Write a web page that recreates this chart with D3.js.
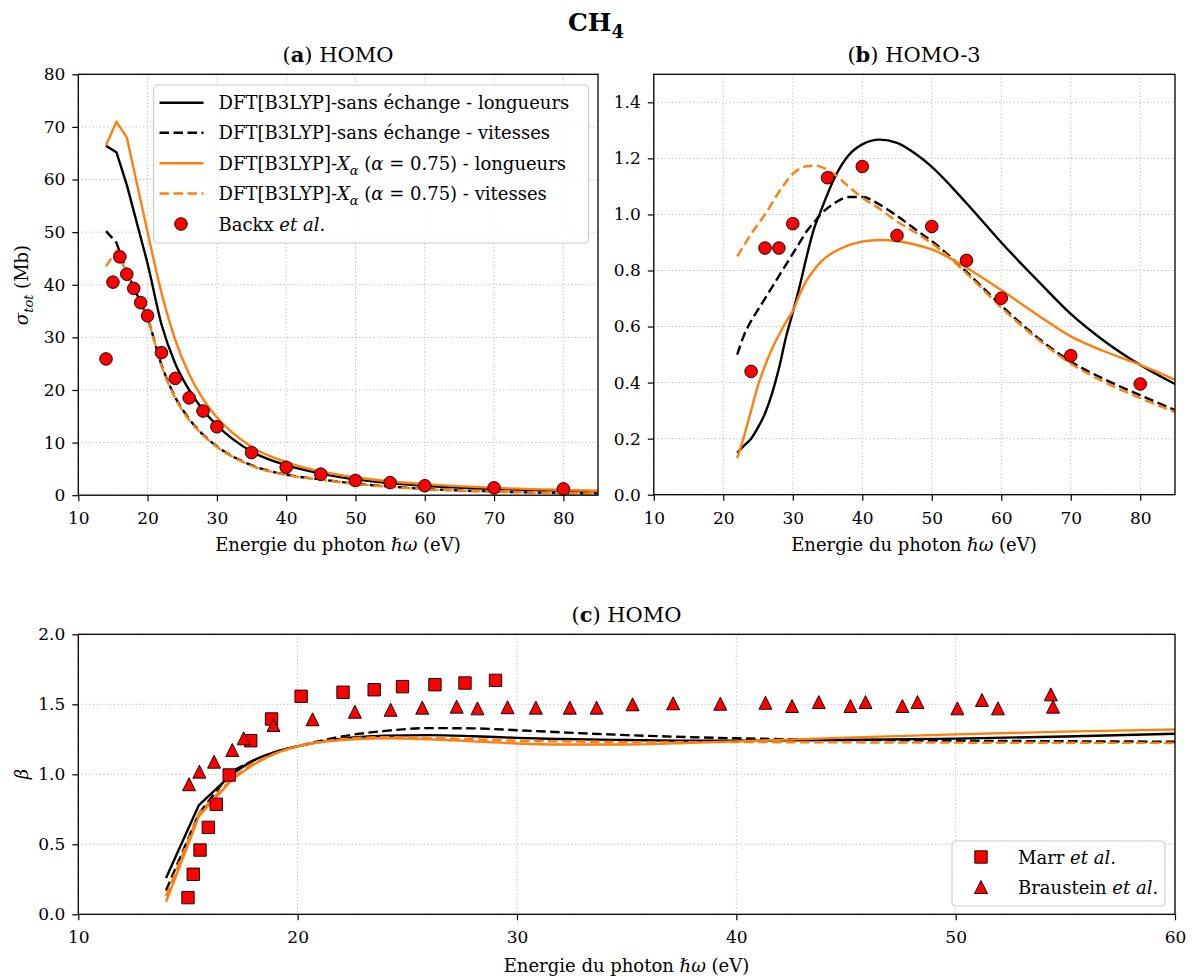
<!DOCTYPE html>
<html><head><meta charset="utf-8">
<script src="https://cdn.jsdelivr.net/npm/d3@7"></script>
<style>body{margin:0;background:#fff}svg text{font-family:"DejaVu Serif",serif;fill:#000}</style>
</head><body><svg id="c" width="1192" height="979"></svg>
<script>
// ---------------- DATA ----------------
// Panel (a) HOMO : sigma_tot (Mb)
const aLineX    = [14,15.5,17,18,19,20,22,24,26,28,30,35,40,45,50,55,60,70,80,85];
const aSansLong = [66.4,65.2,59,54,49,44,32.5,25,20,16.2,13.3,8.3,5.7,4.1,3.0,2.3,1.8,1.2,0.86,0.72];
const aSansVit  = [50.2,48,42.5,39.5,36.6,33.6,24.8,18.6,14.5,11.5,9.3,5.7,3.9,3.0,2.2,1.65,1.2,0.7,0.42,0.34];
const aXaLong   = [66.5,71,68,62,56,50,38.5,29.5,23,18.3,14.8,9.2,6.3,4.5,3.4,2.6,2.1,1.4,1.0,0.85];
const aXaVit    = [43.5,46.5,42.3,39.3,36.5,33.5,24.6,18.4,14.3,11.4,9.2,5.6,3.85,2.95,2.15,1.6,1.15,0.68,0.4,0.32];
const aBackxX   = [14,15,16,17,18,19,20,22,24,26,28,30,35,40,45,50,55,60,70,80];
const aBackxY   = [25.9,40.5,45.3,42.0,39.3,36.6,34.1,27.1,22.2,18.5,16.0,13.0,8.1,5.3,4.0,2.8,2.4,1.8,1.4,1.2];

// Panel (b) HOMO-3
const bLineX    = [22,23,24,25,26,27,28,29,30,31,32,33,34,36,38,40,42.5,45,48,50,55,60,65,70,75,80,85];
const bSansLong = [0.15,0.175,0.2,0.24,0.29,0.36,0.45,0.56,0.65,0.745,0.85,0.945,1.01,1.13,1.21,1.25,1.267,1.255,1.21,1.17,1.04,0.9,0.77,0.645,0.545,0.463,0.395];
const bSansVit  = [0.5,0.57,0.62,0.66,0.7,0.74,0.78,0.82,0.86,0.9,0.94,0.97,1.0,1.04,1.062,1.062,1.035,0.995,0.94,0.905,0.795,0.675,0.565,0.475,0.41,0.355,0.302];
const bXaLong   = [0.13,0.21,0.3,0.39,0.46,0.52,0.57,0.615,0.655,0.715,0.765,0.8,0.83,0.867,0.89,0.903,0.909,0.905,0.89,0.875,0.81,0.73,0.645,0.565,0.51,0.463,0.41];
const bXaVit    = [0.85,0.89,0.93,0.965,1.0,1.04,1.08,1.115,1.145,1.163,1.172,1.174,1.17,1.143,1.1,1.06,1.02,0.975,0.93,0.897,0.79,0.668,0.56,0.468,0.4,0.345,0.295];
const bBackxX   = [24,26,28,30,35,40,45,50,55,60,70,80];
const bBackxY   = [0.44,0.88,0.88,0.967,1.131,1.171,0.925,0.957,0.836,0.701,0.496,0.395];

// Panel (c) HOMO : beta
const cLineX    = [14,15.5,17,18,19,20,22,24,26,28,30,32,35,38,40,45,50,55,60];
const cSansLong = [0.26,0.78,1.0,1.1,1.16,1.2,1.255,1.275,1.28,1.272,1.26,1.252,1.245,1.24,1.24,1.245,1.255,1.27,1.29];
const cSansVit  = [0.17,0.72,1.02,1.1,1.16,1.2,1.27,1.31,1.33,1.328,1.315,1.3,1.28,1.265,1.257,1.247,1.24,1.236,1.233];
const cXaLong   = [0.09,0.7,0.96,1.07,1.15,1.2,1.245,1.258,1.25,1.235,1.22,1.213,1.213,1.225,1.235,1.262,1.285,1.305,1.32];
const cXaVit    = [0.13,0.72,0.97,1.08,1.15,1.2,1.25,1.265,1.26,1.25,1.24,1.235,1.23,1.23,1.23,1.228,1.226,1.225,1.224];
const marrX = [15.0,15.24,15.55,15.93,16.29,16.88,17.86,18.81,20.16,22.07,23.49,24.78,26.26,27.63,29.02];
const marrY = [0.119,0.286,0.459,0.621,0.786,0.995,1.24,1.395,1.557,1.586,1.604,1.626,1.64,1.652,1.671];
const braunX = [15.05,15.52,16.19,17.02,17.54,18.9,20.68,22.61,24.24,25.68,27.25,28.2,29.57,30.86,32.41,33.63,35.27,37.12,39.27,41.33,42.54,43.76,45.2,45.89,47.57,48.26,50.08,51.2,51.93,54.34,54.44];
const braunY = [0.929,1.019,1.09,1.174,1.257,1.352,1.393,1.447,1.461,1.476,1.483,1.471,1.479,1.476,1.476,1.476,1.5,1.507,1.504,1.511,1.488,1.516,1.488,1.516,1.488,1.516,1.471,1.531,1.471,1.571,1.483];

// ticks
const abXTicks = [10,20,30,40,50,60,70,80];
const aYTicks  = [0,10,20,30,40,50,60,70,80];
const bYTicks  = [0,0.2,0.4,0.6,0.8,1.0,1.2,1.4];
const cXTicks  = [10,20,30,40,50,60];
const cYTicks  = [0,0.5,1.0,1.5,2.0];

const legendA = ["DFT[B3LYP]-sans échange - longueurs","DFT[B3LYP]-sans échange - vitesses"];

// ---------------- DRAWING ----------------
const svg = d3.select("#c");
const ORANGE = "#ff7f0e", RED = "#ff0000";
const FS = 18;
const LW = 2.4;

function rich(g, x, y, segs, opts = {}) {
  const size = opts.size || FS;
  const t = g.append("text").attr("x", x).attr("y", y)
    .attr("font-size", size).attr("text-anchor", opts.anchor || "start");
  if (opts.transform) t.attr("transform", opts.transform);
  let shift = 0;
  segs.forEach(s => {
    if (typeof s === "string") s = {t: s};
    const sp = t.append("tspan").text(s.t);
    if (s.i) sp.attr("font-style", "italic");
    if (s.b) sp.attr("font-weight", "bold");
    const target = s.sub ? size * 0.28 : 0;
    if (target !== shift) { sp.attr("dy", target - shift); shift = target; }
    if (s.sub) sp.attr("font-size", size * 0.72);
  });
  return t;
}

let clipId = 0;
function panel(o) {
  const x = d3.scaleLinear().domain(o.xd).range([o.x0, o.x1]);
  const y = d3.scaleLinear().domain(o.yd).range([o.y1, o.y0]);
  const g = svg.append("g");
  const grid = g.append("g").attr("stroke", "#b0b0b0").attr("stroke-width", 1).attr("stroke-dasharray", "1,2.6");
  o.xt.forEach(v => grid.append("line").attr("x1", x(v)).attr("x2", x(v)).attr("y1", o.y0).attr("y2", o.y1));
  o.yt.forEach(v => grid.append("line").attr("y1", y(v)).attr("y2", y(v)).attr("x1", o.x0).attr("x2", o.x1));
  const id = "clip" + (clipId++);
  svg.append("clipPath").attr("id", id).append("rect")
    .attr("x", o.x0).attr("y", o.y0).attr("width", o.x1 - o.x0).attr("height", o.y1 - o.y0);
  const data = g.append("g").attr("clip-path", `url(#${id})`);
  return {x, y, g, data, o, finish() {
    const ax = svg.append("g");
    ax.append("rect").attr("x", o.x0).attr("y", o.y0).attr("width", o.x1 - o.x0).attr("height", o.y1 - o.y0)
      .attr("fill", "none").attr("stroke", "#000").attr("stroke-width", 1.3);
    const xa = d3.axisBottom(x).tickValues(o.xt).tickSize(6).tickPadding(7).tickFormat(d3.format("d"));
    const ya = d3.axisLeft(y).tickValues(o.yt).tickSize(6).tickPadding(7).tickFormat(o.yfmt);
    const gx = ax.append("g").attr("transform", `translate(0,${o.y1})`).call(xa);
    const gy = ax.append("g").attr("transform", `translate(${o.x0},0)`).call(ya);
    [gx, gy].forEach(a => {
      a.select(".domain").remove();
      a.selectAll(".tick line").attr("stroke", "#000").attr("stroke-width", 1.2);
      a.selectAll(".tick text").attr("font-size", 17).attr("font-family", '"DejaVu Serif", serif').attr("fill", "#000");
    });
    gx.selectAll(".tick text").attr("dy", "0.95em");
  }};
}

// linear segments up to xLin (the coarse start of the computed curves), smooth afterwards
function drawLine(p, xs, ys, color, dashed, xLin) {
  const pts = d3.zip(xs, ys);
  const head = pts.filter(d => d[0] <= xLin);
  const tail = pts.filter(d => d[0] >= xLin);
  const lin = d3.line().x(d => p.x(d[0])).y(d => p.y(d[1])).curve(d3.curveLinear);
  const smooth = d3.line().x(d => p.x(d[0])).y(d => p.y(d[1])).curve(d3.curveMonotoneX);
  let d = "";
  if (head.length > 1) d += lin(head);
  if (tail.length > 1) d += (head.length > 1 ? smooth(tail).replace(/^M/, "L") : smooth(tail));
  p.data.append("path").attr("d", d)
    .attr("fill", "none").attr("stroke", color).attr("stroke-width", LW)
    .attr("stroke-linejoin", "round")
    .attr("stroke-dasharray", dashed ? "9.5,4.5" : null);
}
function drawCircles(p, xs, ys) {
  p.data.selectAll(null).data(d3.zip(xs, ys)).join("circle")
    .attr("cx", d => p.x(d[0])).attr("cy", d => p.y(d[1])).attr("r", 6.3)
    .attr("fill", RED).attr("stroke", "#000").attr("stroke-width", 0.9);
}
function sq(cx, cy, s) { return `M${cx - s},${cy - s}H${cx + s}V${cy + s}H${cx - s}Z`; }
function tri(cx, cy, s) { return `M${cx},${cy - s}L${cx + s},${cy + s}L${cx - s},${cy + s}Z`; }
function drawSquares(p, xs, ys) {
  p.data.selectAll(null).data(d3.zip(xs, ys)).join("path")
    .attr("d", d => sq(p.x(d[0]), p.y(d[1]), 6.2))
    .attr("fill", RED).attr("stroke", "#000").attr("stroke-width", 0.9);
}
function drawTriangles(p, xs, ys) {
  p.data.selectAll(null).data(d3.zip(xs, ys)).join("path")
    .attr("d", d => tri(p.x(d[0]), p.y(d[1]), 6.5))
    .attr("fill", RED).attr("stroke", "#000").attr("stroke-width", 0.9);
}

// Title
rich(svg, 596, 31, [{t: "CH", b: 1}, {t: "4", b: 1, sub: 1}], {anchor: "middle", size: 25});

// ---- Panel (a)
const pa = panel({x0: 78.3, x1: 598, y0: 74.3, y1: 495.2, xd: [10, 85], yd: [0, 80],
  xt: abXTicks, yt: aYTicks, yfmt: d3.format("d")});
drawLine(pa, aLineX, aSansLong, "#000", false, 17);
drawLine(pa, aLineX, aSansVit, "#000", true, 17);
drawLine(pa, aLineX, aXaLong, ORANGE, false, 17);
drawLine(pa, aLineX, aXaVit, ORANGE, true, 17);
drawCircles(pa, aBackxX, aBackxY);
pa.finish();
rich(svg, 338, 62, ["(", {t: "a", b: 1}, ") HOMO"], {anchor: "middle", size: 21});
rich(svg, 338, 551, ["Energie du photon ", {t: "ℏω", i: 1}, " (eV)"], {anchor: "middle"});
rich(svg, 0, 0, [{t: "σ", i: 1}, {t: "tot", i: 1, sub: 1}, " (Mb)"], {anchor: "middle", transform: "translate(28,285) rotate(-90)"});

// legend (a)
{
  const lg = svg.append("g");
  lg.append("rect").attr("x", 153.5).attr("y", 85).attr("width", 435).attr("height", 158).attr("rx", 4)
    .attr("fill", "#fff").attr("fill-opacity", 0.85).attr("stroke", "#cccccc").attr("stroke-width", 1.2);
  const rows = [102.7, 132.7, 163.3, 193.5, 224];
  const styles = [["#000", false], ["#000", true], [ORANGE, false], [ORANGE, true]];
  styles.forEach((s, i) => {
    lg.append("line").attr("x1", 159.5).attr("x2", 203.5).attr("y1", rows[i]).attr("y2", rows[i])
      .attr("stroke", s[0]).attr("stroke-width", LW).attr("stroke-dasharray", s[1] ? "9.5,4.5" : null);
  });
  lg.append("circle").attr("cx", 181).attr("cy", rows[4]).attr("r", 6.3).attr("fill", RED).attr("stroke", "#000").attr("stroke-width", 0.9);
  const tx = 218.5, dy = 6.5;
  rich(lg, tx, rows[0] + dy, [legendA[0]]);
  rich(lg, tx, rows[1] + dy, [legendA[1]]);
  rich(lg, tx, rows[2] + dy, ["DFT[B3LYP]-", {t: "X", i: 1}, {t: "α", i: 1, sub: 1}, " (", {t: "α", i: 1}, " = 0.75) - longueurs"]);
  rich(lg, tx, rows[3] + dy, ["DFT[B3LYP]-", {t: "X", i: 1}, {t: "α", i: 1, sub: 1}, " (", {t: "α", i: 1}, " = 0.75) - vitesses"]);
  rich(lg, tx, rows[4] + dy, ["Backx ", {t: "et al.", i: 1}]);
}

// ---- Panel (b)
const pb = panel({x0: 653.8, x1: 1175, y0: 74.3, y1: 494.7, xd: [10, 85], yd: [0, 1.5],
  xt: abXTicks, yt: bYTicks, yfmt: d3.format(".1f")});
drawLine(pb, bLineX, bSansLong, "#000", false, 0);
drawLine(pb, bLineX, bSansVit, "#000", true, 0);
drawLine(pb, bLineX, bXaLong, ORANGE, false, 0);
drawLine(pb, bLineX, bXaVit, ORANGE, true, 0);
drawCircles(pb, bBackxX, bBackxY);
pb.finish();
rich(svg, 914, 62, ["(", {t: "b", b: 1}, ") HOMO-3"], {anchor: "middle", size: 21});
rich(svg, 914, 551, ["Energie du photon ", {t: "ℏω", i: 1}, " (eV)"], {anchor: "middle"});

// ---- Panel (c)
const pc = panel({x0: 78.3, x1: 1175, y0: 634.3, y1: 914.3, xd: [10, 60], yd: [0, 2.0],
  xt: cXTicks, yt: cYTicks, yfmt: d3.format(".1f")});
drawLine(pc, cLineX, cSansLong, "#000", false, 17);
drawLine(pc, cLineX, cSansVit, "#000", true, 17);
drawLine(pc, cLineX, cXaLong, ORANGE, false, 17);
drawLine(pc, cLineX, cXaVit, ORANGE, true, 17);
drawSquares(pc, marrX, marrY);
drawTriangles(pc, braunX, braunY);
pc.finish();
rich(svg, 626.5, 622, ["(", {t: "c", b: 1}, ") HOMO"], {anchor: "middle", size: 21});
rich(svg, 626.5, 972, ["Energie du photon ", {t: "ℏω", i: 1}, " (eV)"], {anchor: "middle"});
rich(svg, 0, 0, [{t: "β", i: 1}], {anchor: "middle", transform: "translate(28,774) rotate(-90)"});

// legend (c)
{
  const lg = svg.append("g");
  lg.append("rect").attr("x", 952).attr("y", 841).attr("width", 213).attr("height", 65).attr("rx", 4)
    .attr("fill", "#fff").attr("fill-opacity", 0.85).attr("stroke", "#cccccc").attr("stroke-width", 1.2);
  lg.append("path").attr("d", sq(981, 857, 6.2)).attr("fill", RED).attr("stroke", "#000").attr("stroke-width", 0.9);
  lg.append("path").attr("d", tri(981, 887, 6.5)).attr("fill", RED).attr("stroke", "#000").attr("stroke-width", 0.9);
  rich(lg, 1018, 863.5, ["Marr ", {t: "et al.", i: 1}]);
  rich(lg, 1018, 893.5, ["Braustein ", {t: "et al.", i: 1}]);
}
</script></body></html>
